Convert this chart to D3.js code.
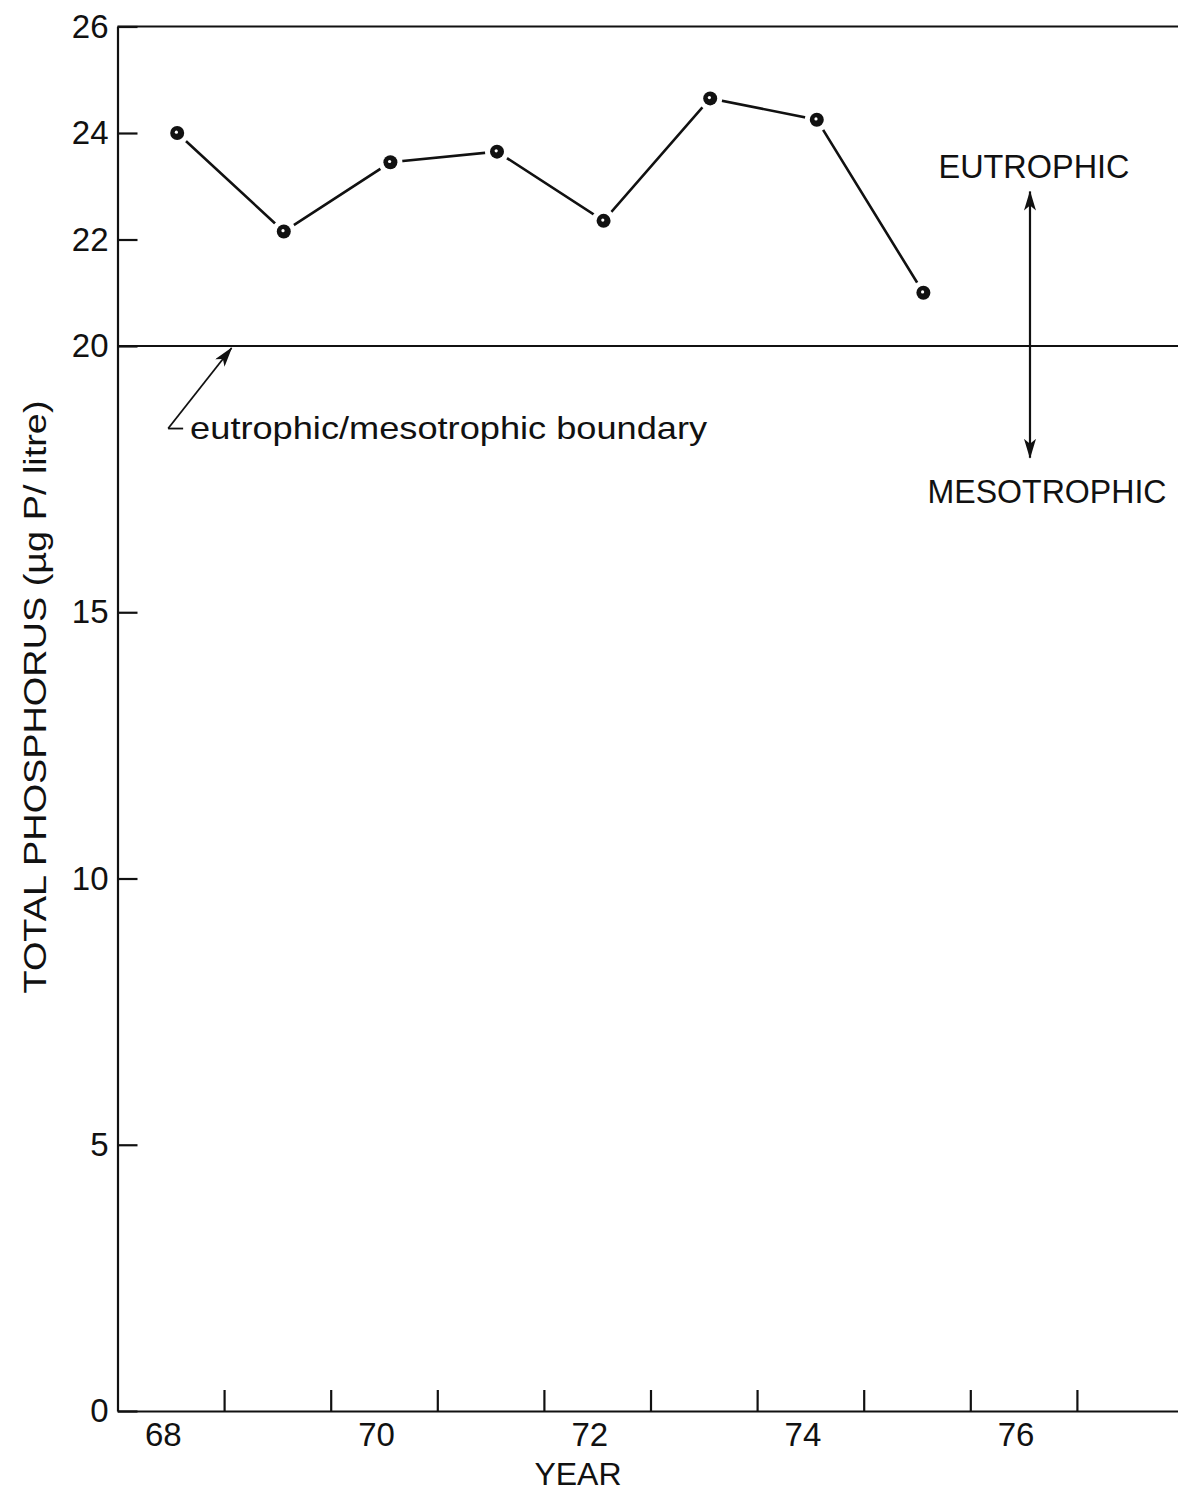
<!DOCTYPE html>
<html>
<head>
<meta charset="utf-8">
<script src="https://cdn.jsdelivr.net/npm/d3@7"></script>
<style>
  body { margin: 0; background: #fff; }
  text { font-family: "Liberation Sans", Arial, sans-serif; fill: #111; }
</style>
</head>
<body>
<div id="wrapper"></div>
<script>
// data
const years = [68, 69, 70, 71, 72, 73, 74, 75];
const phosphorus = [24.0, 22.15, 23.45, 23.65, 22.35, 24.65, 24.25, 21.0];
const yTicks = [0, 5, 10, 15, 20, 22, 24, 26];
const yearTicks = [69, 70, 71, 72, 73, 74, 75, 76, 77];
const yearLabels = [68, 70, 72, 74, 76];
const boundaryValue = 20;

function buildChart() {
    //Accessor
    const sampleOffset = 0.56; // samples sit a bit past mid-year
    const xAccessor = (d, i) => years[i] + sampleOffset;
    const yAccessor = d => d;

    var dimension = {
        width: 1178,
        height: 1493,
        margin: { top: 26.5, left: 117.5, bottom: 82, right: 0 }
    };
    dimension.boundedHeight = dimension.height - dimension.margin.top - dimension.margin.bottom;

    const wrapper = d3.select("#wrapper")
        .append("svg")
        .attr("width", dimension.width)
        .attr("height", dimension.height);

    const xScaler = d3.scaleLinear()
        .domain([68, 78])
        .range([dimension.margin.left, dimension.margin.left + 10 * 106.6]);

    const yScaler = d3.scaleLinear()
        .domain([0, 26])
        .range([dimension.margin.top + dimension.boundedHeight, dimension.margin.top]);

    const y0 = yScaler(0);

    // top frame line and the boundary line
    wrapper.append("line")
        .attr("x1", xScaler(68)).attr("x2", dimension.width)
        .attr("y1", yScaler(26)).attr("y2", yScaler(26))
        .attr("stroke", "#111").attr("stroke-width", 2);
    wrapper.append("line")
        .attr("x1", xScaler(68)).attr("x2", dimension.width)
        .attr("y1", yScaler(boundaryValue)).attr("y2", yScaler(boundaryValue))
        .attr("stroke", "#111").attr("stroke-width", 2);

    // y axis, ticks pointing inward
    const yAxisGen = d3.axisLeft(yScaler)
        .tickValues(yTicks)
        .tickSizeInner(-20)
        .tickSizeOuter(0)
        .tickPadding(9);
    const yAxis = wrapper.append("g")
        .attr("transform", `translate(${xScaler(68)},0)`)
        .call(yAxisGen);
    yAxis.selectAll("path, line").attr("stroke", "#111").attr("stroke-width", 2.2);
    yAxis.selectAll("text").style("font-size", "33px").attr("fill", "#111");

    // x axis with year boundary ticks
    const xAxisGen = d3.axisBottom(xScaler)
        .tickValues(yearTicks)
        .tickSizeInner(-21)
        .tickSizeOuter(0)
        .tickFormat("");
    const xAxis = wrapper.append("g")
        .attr("transform", `translate(0,${y0})`)
        .call(xAxisGen);
    xAxis.selectAll("path, line").attr("stroke", "#111").attr("stroke-width", 2.2);

    wrapper.append("g").selectAll("text")
        .data(yearLabels)
        .enter()
        .append("text")
        .attr("x", d => xScaler(d + 0.43))
        .attr("y", y0 + 35)
        .attr("text-anchor", "middle")
        .style("font-size", "33px")
        .text(d => d);

    // series
    const lineGen = d3.line()
        .x((d, i) => xScaler(xAccessor(d, i)))
        .y(d => yScaler(yAccessor(d)));
    wrapper.append("path")
        .datum(phosphorus)
        .attr("d", lineGen)
        .attr("fill", "none")
        .attr("stroke", "#111")
        .attr("stroke-width", 2.6);

    const dots = wrapper.append("g").selectAll("g")
        .data(phosphorus)
        .enter()
        .append("g")
        .attr("transform", (d, i) => `translate(${xScaler(xAccessor(d, i))},${yScaler(yAccessor(d))})`);
    dots.append("circle").attr("r", 12).attr("fill", "#fff");
    dots.append("circle").attr("r", 7).attr("fill", "#111");
    dots.append("circle").attr("r", 1.6).attr("cx", -0.8).attr("cy", -0.8).attr("fill", "#fff");

    // arrow markers
    const defs = wrapper.append("defs");
    defs.append("marker")
        .attr("id", "head")
        .attr("viewBox", "0 0 20 12")
        .attr("refX", 19).attr("refY", 6)
        .attr("markerWidth", 20).attr("markerHeight", 12)
        .attr("markerUnits", "userSpaceOnUse")
        .attr("orient", "auto-start-reverse")
        .append("path")
        .attr("d", "M0,0 L20,6 L0,12 L5,6 Z")
        .attr("fill", "#111");

    // boundary annotation
    const tipX = xScaler(69.07), tipY = yScaler(boundaryValue) + 2;
    const baseX = xScaler(68.475), baseY = yScaler(18.45);
    wrapper.append("line")
        .attr("x1", baseX).attr("y1", baseY)
        .attr("x2", tipX).attr("y2", tipY)
        .attr("stroke", "#111").attr("stroke-width", 1.8)
        .attr("marker-end", "url(#head)");
    wrapper.append("line")
        .attr("x1", baseX).attr("y1", baseY)
        .attr("x2", baseX + 15).attr("y2", baseY)
        .attr("stroke", "#111").attr("stroke-width", 1.8);
    wrapper.append("text")
        .attr("x", baseX + 22)
        .attr("y", baseY + 10)
        .style("font-size", "32px")
        .attr("textLength", 517)
        .attr("lengthAdjust", "spacingAndGlyphs")
        .text("eutrophic/mesotrophic  boundary");

    // trophic state arrow
    const arrowX = xScaler(76 + sampleOffset);
    wrapper.append("line")
        .attr("x1", arrowX).attr("x2", arrowX)
        .attr("y1", yScaler(17.9)).attr("y2", yScaler(22.9))
        .attr("stroke", "#111").attr("stroke-width", 2.2)
        .attr("marker-start", "url(#head)")
        .attr("marker-end", "url(#head)");
    wrapper.append("text")
        .attr("x", 1034)
        .attr("y", yScaler(23.15))
        .attr("text-anchor", "middle")
        .style("font-size", "33px")
        .attr("textLength", 191)
        .attr("lengthAdjust", "spacingAndGlyphs")
        .text("EUTROPHIC");
    wrapper.append("text")
        .attr("x", 1047)
        .attr("y", yScaler(17.05))
        .attr("text-anchor", "middle")
        .style("font-size", "33px")
        .attr("textLength", 239)
        .attr("lengthAdjust", "spacingAndGlyphs")
        .text("MESOTROPHIC");

    // axis titles
    wrapper.append("text")
        .attr("transform", `translate(46,${697}) rotate(-90)`)
        .attr("text-anchor", "middle")
        .style("font-size", "32px")
        .attr("textLength", 593)
        .attr("lengthAdjust", "spacingAndGlyphs")
        .text("TOTAL  PHOSPHORUS  (µg P/ litre)");
    wrapper.append("text")
        .attr("x", 578)
        .attr("y", y0 + 74)
        .attr("text-anchor", "middle")
        .style("font-size", "32px")
        .text("YEAR");
}

buildChart();
</script>
</body>
</html>
